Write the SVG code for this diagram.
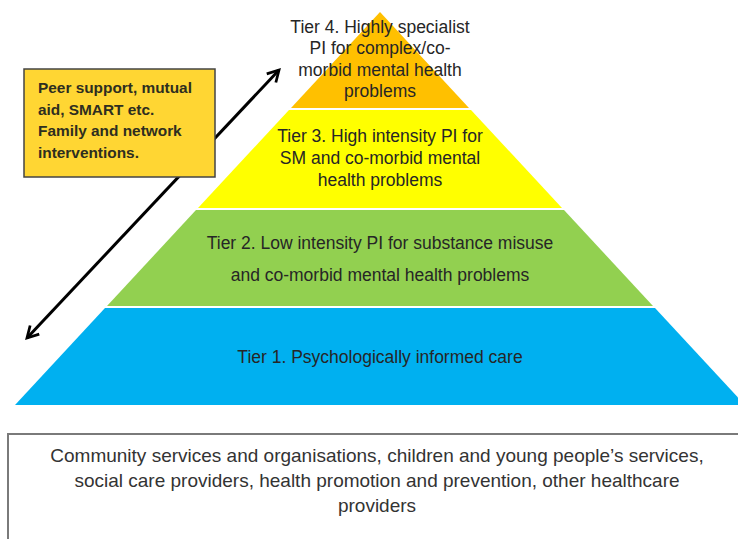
<svg xmlns="http://www.w3.org/2000/svg" width="738" height="539" viewBox="0 0 738 539">
  <defs>
    <style>
      .t { font-family: "Liberation Sans", Arial, sans-serif; font-size: 17.5px; fill: #262626; text-anchor: middle; }
      .bx { font-family: "Liberation Sans", Arial, sans-serif; font-size: 15.4px; font-weight: bold; fill: #2e2e20; }
      .bt { font-family: "Liberation Sans", Arial, sans-serif; font-size: 19px; fill: #333333; text-anchor: middle; }
    </style>
    <marker id="ah" viewBox="0 0 12 12" refX="10" refY="6" markerWidth="5" markerHeight="5" orient="auto-start-reverse" markerUnits="strokeWidth">
      <path d="M1,1 L10,6 L1,11" fill="none" stroke="#000" stroke-width="2.2"/>
    </marker>
  </defs>
  <rect width="738" height="539" fill="#ffffff"/>

  <g id="tier1">
    <polygon points="105,308 655,308 745,405 15,405" fill="#00B0F0"/>
    <text class="t" x="380" y="363">Tier 1. Psychologically informed care</text>
  </g>
  <g id="tier2">
    <polygon points="196,210 564,210 653,306 107,306" fill="#92D050"/>
    <text class="t" x="380" y="249">Tier 2. Low intensity PI for substance misuse</text>
    <text class="t" x="380" y="281">and co-morbid mental health problems</text>
  </g>
  <g id="tier3">
    <polygon points="289,110 471,110 562,208 198,208" fill="#FFFF00"/>
    <text class="t" x="380" y="142">Tier 3. High intensity PI for</text>
    <text class="t" x="380" y="164">SM and co-morbid mental</text>
    <text class="t" x="380" y="186">health problems</text>
  </g>
  <g id="tier4">
    <polygon points="380,12 469,108 291,108" fill="#FFC000"/>
    <text class="t" x="380" y="33">Tier 4. Highly specialist</text>
    <text class="t" x="380" y="54">PI for complex/co-</text>
    <text class="t" x="380" y="76">morbid mental health</text>
    <text class="t" x="380" y="97">problems</text>
  </g>

  <g id="connectors">
    <line x1="27" y1="338" x2="279" y2="70" stroke="#000" stroke-width="3" marker-start="url(#ah)" marker-end="url(#ah)"/>
  </g>

  <g id="peer-box">
    <rect x="24" y="69" width="191" height="108" fill="#FFD633" stroke="#444" stroke-width="1.5"/>
    <text class="bx" x="38" y="93">Peer support, mutual</text>
    <text class="bx" x="38" y="115">aid, SMART etc.</text>
    <text class="bx" x="38" y="136">Family and network</text>
    <text class="bx" x="38" y="158">interventions.</text>
  </g>

  <g id="community-box">
    <rect x="8" y="434" width="740" height="120" fill="#ffffff" stroke="#7a7a7a" stroke-width="2"/>
    <text class="bt" x="377" y="462">Community services and organisations, children and young people’s services,</text>
    <text class="bt" x="377" y="487">social care providers, health promotion and prevention, other healthcare</text>
    <text class="bt" x="377" y="512">providers</text>
  </g>
</svg>
